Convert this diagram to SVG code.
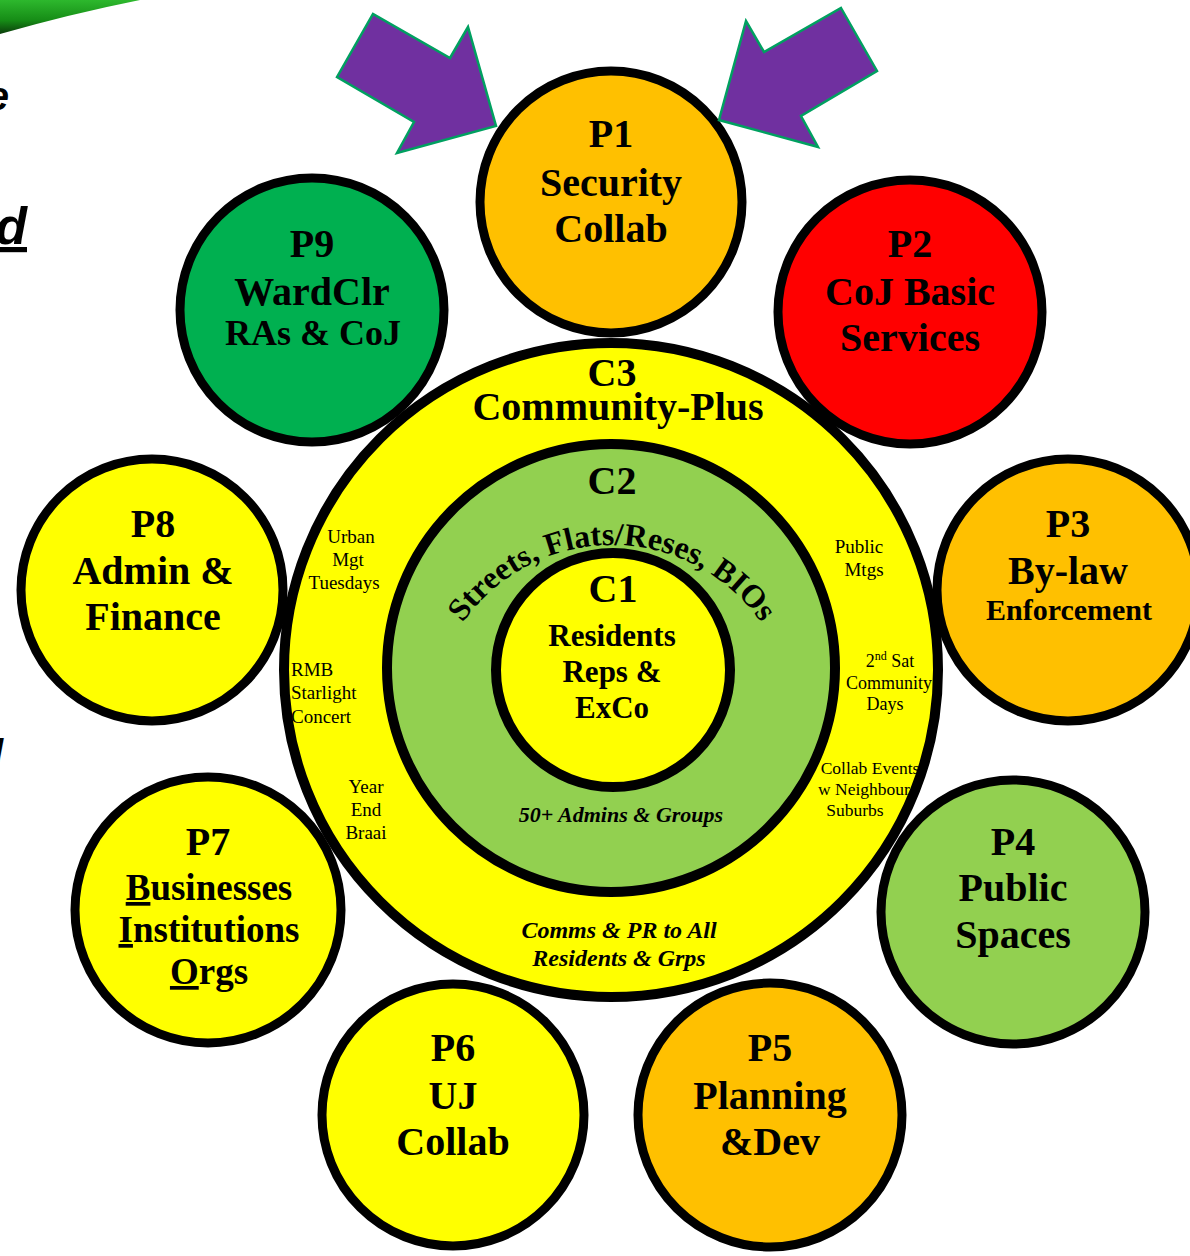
<svg xmlns="http://www.w3.org/2000/svg" width="1190" height="1256" viewBox="0 0 1190 1256">
<style>
.p{stroke:#000;stroke-width:9}
.c{stroke:#000;stroke-width:10}
.t{font-family:"Liberation Serif","Times New Roman",serif;font-weight:bold;fill:#000;text-anchor:middle}
.s{font-family:"Liberation Serif","Times New Roman",serif;fill:#000;text-anchor:middle}
.bi{font-family:"Liberation Serif","Times New Roman",serif;font-weight:bold;font-style:italic;fill:#000;text-anchor:middle}
.frag{font-family:"Liberation Sans",Arial,sans-serif;font-weight:bold;font-style:italic;fill:#000;text-anchor:end}
.arrow{fill:#7030A0;stroke:#00A060;stroke-width:2.5;stroke-linejoin:miter}
.u{text-decoration:underline}
</style>
<defs>
<linearGradient id="sw" x1="0" y1="0" x2="0" y2="1">
<stop offset="0" stop-color="#2DB82D"/>
<stop offset="0.6" stop-color="#168C16"/>
<stop offset="1" stop-color="#0B3D0B"/>
</linearGradient>
<path id="arc" d="M438.9,670.8 A182,182 0 0,1 785.1,670.8"/>
</defs>
<rect width="1190" height="1256" fill="#fff"/>
<g id="background-fragments">
<path d="M0,0 L140,0 Q70,14 0,34 Z" fill="url(#sw)"/>
<text class="frag" x="9" y="110" font-size="40">e</text>
<text class="frag u" x="27" y="244" font-size="52">d</text>
<text class="frag" x="3" y="768" font-size="40">l</text>
</g>
<g id="C3">
<circle class="c" cx="611" cy="670" r="327" fill="#FFFF00"/>
<text class="t" x="612" y="386" font-size="40">C3</text>
<text class="t" x="618" y="420" font-size="40">Community-Plus</text>
<text class="s" font-size="19"><tspan x="351" y="543">Urban</tspan><tspan x="348" y="566">Mgt</tspan><tspan x="344" y="589">Tuesdays</tspan></text>
<text class="s" font-size="19" style="text-anchor:start"><tspan x="291" y="676">RMB</tspan><tspan x="291" y="699">Starlight</tspan><tspan x="291" y="723">Concert</tspan></text>
<text class="s" font-size="19"><tspan x="366" y="793">Year</tspan><tspan x="366" y="816">End</tspan><tspan x="366" y="839">Braai</tspan></text>
<text class="s" font-size="19"><tspan x="859" y="553">Public</tspan><tspan x="864" y="576">Mtgs</tspan></text>
<text class="s" font-size="18"><tspan x="890" y="667">2<tspan font-size="12" dy="-7">nd</tspan><tspan dy="7"> Sat</tspan></tspan><tspan x="889" y="689">Community</tspan><tspan x="885" y="710">Days</tspan></text>
<text class="bi" font-size="24"><tspan x="619" y="938">Comms &amp; PR to All</tspan><tspan x="619" y="966">Residents &amp; Grps</tspan></text>
</g>
<g id="C2">
<circle class="c" cx="611" cy="668" r="224" fill="#92D050"/>
<text class="t" x="612" y="494" font-size="40">C2</text>
<text class="t" font-size="32"><textPath href="#arc" startOffset="50%">Streets, Flats/Reses, BIOs</textPath></text>
<text class="bi" x="621" y="822" font-size="22">50+ Admins &amp; Groups</text>
</g>
<g id="C1">
<circle class="c" cx="613" cy="670" r="117" fill="#FFFF00"/>
<text class="t" x="613" y="602" font-size="40">C1</text>
<text class="t" font-size="31"><tspan x="612" y="646">Residents</tspan><tspan x="612" y="682">Reps &amp;</tspan><tspan x="612" y="718">ExCo</tspan></text>
</g>
<g id="P1">
<circle class="p" cx="611" cy="202" r="131" fill="#FFC000"/>
<text class="t" font-size="40"><tspan x="611" y="147">P1</tspan><tspan x="611" y="196">Security</tspan><tspan x="611" y="242">Collab</tspan></text>
</g>
<g id="P2">
<circle class="p" cx="910" cy="312" r="132" fill="#FF0000"/>
<text class="t" font-size="40"><tspan x="910" y="257">P2</tspan><tspan x="910" y="305">CoJ Basic</tspan><tspan x="910" y="351">Services</tspan></text>
</g>
<g id="P3">
<circle class="p" cx="1068" cy="590" r="131" fill="#FFC000"/>
<text class="t" font-size="40"><tspan x="1068" y="537">P3</tspan><tspan x="1068" y="584">By-law</tspan></text>
<text class="t" x="1069" y="620" font-size="30">Enforcement</text>
</g>
<g id="P4">
<circle class="p" cx="1013" cy="912" r="132" fill="#92D050"/>
<text class="t" font-size="40"><tspan x="1013" y="855">P4</tspan><tspan x="1013" y="901">Public</tspan><tspan x="1013" y="948">Spaces</tspan></text>
</g>
<g id="P5">
<circle class="p" cx="770" cy="1115" r="132" fill="#FFC000"/>
<text class="t" font-size="40"><tspan x="770" y="1061">P5</tspan><tspan x="770" y="1109">Planning</tspan><tspan x="770" y="1155">&amp;Dev</tspan></text>
</g>
<g id="P6">
<circle class="p" cx="453" cy="1115" r="131" fill="#FFFF00"/>
<text class="t" font-size="40"><tspan x="453" y="1061">P6</tspan><tspan x="453" y="1109">UJ</tspan><tspan x="453" y="1155">Collab</tspan></text>
</g>
<g id="P7">
<circle class="p" cx="208" cy="910" r="133" fill="#FFFF00"/>
<text class="t" x="208" y="855" font-size="40">P7</text>
<text class="t" x="209" y="900" font-size="37"><tspan class="u">B</tspan>usinesses</text>
<text class="t" x="209" y="942" font-size="37"><tspan class="u">I</tspan>nstitutions</text>
<text class="t" x="209" y="984" font-size="37"><tspan class="u">O</tspan>rgs</text>
</g>
<g id="P8">
<circle class="p" cx="152" cy="590" r="131" fill="#FFFF00"/>
<text class="t" font-size="40"><tspan x="153" y="537">P8</tspan><tspan x="153" y="584">Admin &amp;</tspan><tspan x="153" y="630">Finance</tspan></text>
</g>
<g id="P9">
<circle class="p" cx="312" cy="310" r="132" fill="#00B050"/>
<text class="t" x="312" y="257" font-size="40">P9</text>
<text class="t" x="312" y="305" font-size="40">WardClr</text>
<text class="t" x="313" y="345" font-size="36">RAs &amp; CoJ</text>
</g>
<g id="event-labels">
<text class="s" font-size="17.5"><tspan x="870" y="774">Collab Events</tspan><tspan x="864" y="795">w Neighbour</tspan><tspan x="855" y="816">Suburbs</tspan></text>
</g>
<g id="connectors">
<polygon class="arrow" points="337,77 373,14 450,58 468,27 496,126 397,153 414,122"/>
<polygon class="arrow" points="841,8 877,71 801,116 818,147 719,120 746,21 764,52"/>
</g>
</svg>
